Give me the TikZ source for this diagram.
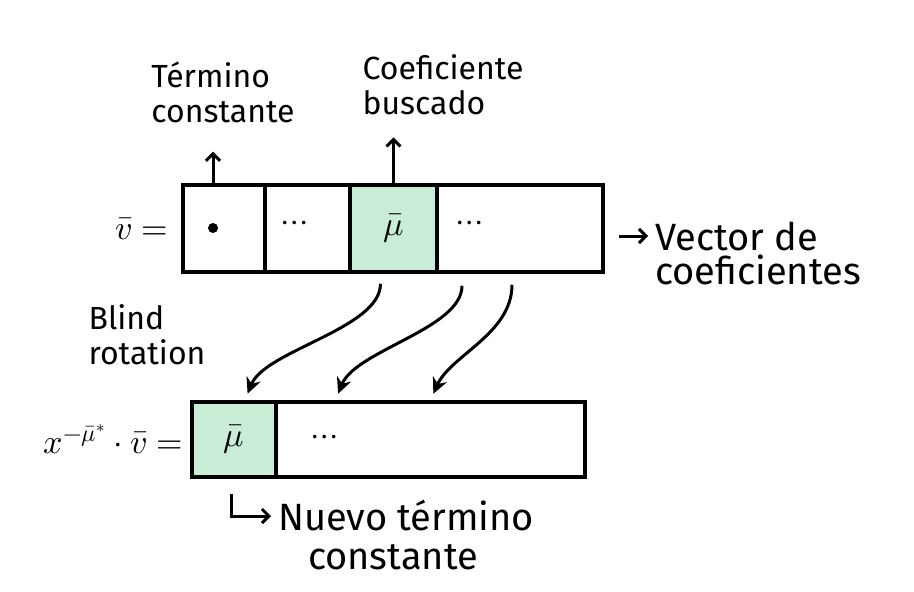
\documentclass[tikz,border=0pt]{standalone}
\usepackage{amsmath,amssymb}
\usepackage{fontspec}
\usepackage{unicode-math}
\setmainfont{Fira Sans}
\setmathfont{Latin Modern Math}
\usetikzlibrary{calc,positioning,arrows.meta}
\definecolor{cellgreen}{RGB}{200,236,214}

\begin{document}
\begin{tikzpicture}[x=1pt,y=-1pt,
    cell/.style={draw,line width=3.5pt,inner sep=0,minimum height=87pt},
    lowcell/.style={cell,minimum height=75pt},
    hand/.style={font=\fontsize{32}{35}\selectfont,inner sep=1pt,align=left},
    handbig/.style={font=\fontsize{38}{40}\selectfont,inner sep=0pt},
    mathlbl/.style={font=\fontsize{34}{38}\selectfont,inner sep=1pt},
    arr/.style={line width=3pt,-{Straight Barb[length=7pt,width=14pt]}},
    curv/.style={line width=3pt,-{Stealth[length=16pt,width=15pt]}}]
        \useasboundingbox (0,0) rectangle (914,592);
        % vector of coefficients
        \node[cell,minimum width=82pt] (c1) at (224,228.5) {};
        \node[cell,minimum width=85pt] (c2) at (307.5,228.5) {};
        \node[cell,minimum width=87pt,fill=cellgreen,mathlbl] (c3) at (393.5,228.5) {$\bar{\mu}$};
        \node[cell,minimum width=166pt] (c4) at (520,228.5) {};
        \node[circle,fill,inner sep=0,minimum size=10pt] (d0) at (213,228) {};
        \node[mathlbl] (d1) at (295,226) {$\cdots$};
        \node[mathlbl] (d2) at (470,226) {$\cdots$};
        \node[mathlbl,left=12pt of c1] (veq) {$\bar{v} =$};
        % rotated vector
        \node[lowcell,minimum width=84pt,fill=cellgreen,mathlbl] (b1) at (234,439.5) {$\bar{\mu}$};
        \node[lowcell,minimum width=309pt] (b2) at (430.5,439.5) {};
        \node[mathlbl] (d3) at (325,440) {$\cdots$};
        \node[mathlbl,left=6pt of b1] (xeq) {$x^{-\bar{\mu}^*}\cdot\bar{v} =$};
        % labels
        \node[hand] (tc) at (223,92) {Término\\constante};
        \node[hand] (cb) at (443,85) {Coeficiente\\buscado};
        \node[hand] (br) at (147,335) {Blind\\rotation};
        \node[handbig,anchor=west] (vc1) at (655,236) {Vector de};
        \node[handbig,below=4pt of vc1.south west,anchor=north west] (vc2) {coeficientes};
        \node[handbig,anchor=west] (nt1) at (278,516) {Nuevo término};
        \node[handbig] (nt2) at (393,557) {constante};
        % arrows
        \draw[arr,shorten >=28pt] (d0 |- c1.north) -- (d0 |- tc.south);
        \draw[arr,shorten >=21pt] (c3.north) -- (c3.north |- cb.south);
        \draw[arr,shorten <=14pt,shorten >=7pt] (c4.east |- vc1.west) -- (vc1.west);
        \draw[arr,shorten >=7pt] ([xshift=-3pt,yshift=-15pt]b1.south) |- (nt1.west);
        \draw[curv,shorten <=10pt,shorten >=7pt] ([xshift=-13pt]c3.south)
              .. controls +(0,55) and +(20,-50) .. ([xshift=11pt]b1.north);
        \draw[curv,shorten <=12pt,shorten >=7pt] ([xshift=-58pt]c4.south)
              .. controls +(0,55) and +(20,-50) .. ([xshift=-95pt]b2.north);
        \draw[curv,shorten <=11pt,shorten >=7pt] ([xshift=-8pt]c4.south)
              .. controls +(0,60) and +(20,-45) .. (b2.north);
      \end{tikzpicture}
\end{document}
